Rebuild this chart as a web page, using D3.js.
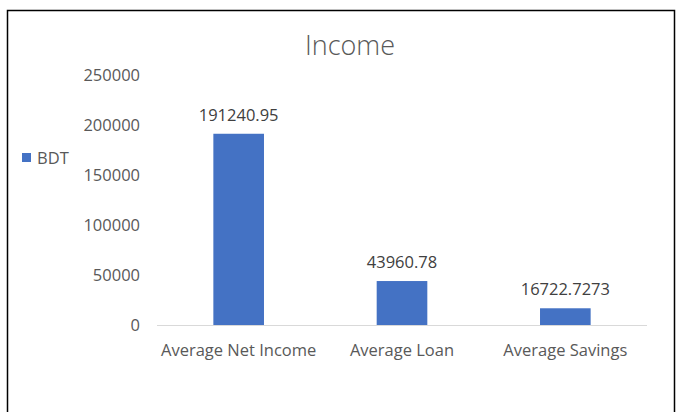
<!DOCTYPE html>
<html>
<head>
<meta charset="utf-8">
<script src="https://cdn.jsdelivr.net/npm/d3@7"></script>
<style>
  body { margin: 0; background: #fff; }
  text { font-family: "Open Sans", "Noto Sans", sans-serif; fill: #595959; }
</style>
</head>
<body>
<div id="chart"></div>
<script>
const categories = ['Average Net Income', 'Average Loan', 'Average Savings'];
const values = [191240.95, 43960.78, 16722.7273];
const valueLabels = ['191240.95', '43960.78', '16722.7273'];
const yTicks = [0, 50000, 100000, 150000, 200000, 250000];
const seriesName = 'BDT';
const title = 'Income';

const width = 684;
const height = 412;
const margin = {top: 75, right: 37, bottom: 87, left: 157};

const svg = d3.select('#chart')
    .append('svg')
    .attr('width', width)
    .attr('height', height);

// outer frame (bottom edge runs off the picture)
svg.append('path')
    .attr('d', 'M7.5,420 V10.5 H674.5 V420')
    .attr('fill', 'none')
    .attr('stroke', '#000')
    .attr('stroke-width', 1.5);

const x = d3.scaleBand()
    .domain(categories)
    .range([margin.left, width - margin.right])
    .paddingInner(0.69)
    .paddingOuter(0.345);

const y = d3.scaleLinear()
    .domain([0, 250000])
    .range([height - margin.bottom, margin.top]);

// title
svg.append('text')
    .attr('x', 350)
    .attr('y', 55)
    .attr('text-anchor', 'middle')
    .style('font-size', '27px')
    .style('font-weight', 300)
    .text(title);

// y axis labels only
svg.selectAll('.ytick')
    .data(yTicks)
    .enter()
    .append('text')
    .attr('class', 'ytick')
    .attr('x', 140)
    .attr('y', (d) => y(d))
    .attr('dy', '0.35em')
    .attr('text-anchor', 'end')
    .style('font-size', '16.5px')
    .text((d) => d);

// bars
svg.selectAll('.bar')
    .data(values)
    .enter()
    .append('rect')
    .attr('class', 'bar')
    .attr('x', (d, i) => x(categories[i]))
    .attr('y', (d) => y(d))
    .attr('width', x.bandwidth())
    .attr('height', (d) => y(0) - y(d))
    .attr('fill', '#4472C4');

// baseline
svg.append('line')
    .attr('x1', margin.left)
    .attr('x2', width - margin.right)
    .attr('y1', y(0) + 0.5)
    .attr('y2', y(0) + 0.5)
    .attr('stroke', '#d9d9d9')
    .attr('stroke-width', 1);

// x labels
svg.selectAll('.xlabel')
    .data(categories)
    .enter()
    .append('text')
    .attr('class', 'xlabel')
    .attr('x', (d) => x(d) + x.bandwidth() / 2)
    .attr('y', y(0) + 31)
    .attr('text-anchor', 'middle')
    .style('font-size', '16.5px')
    .text((d) => d);

// value labels
svg.selectAll('.vlabel')
    .data(values)
    .enter()
    .append('text')
    .attr('class', 'vlabel')
    .attr('x', (d, i) => x(categories[i]) + x.bandwidth() / 2)
    .attr('y', (d) => y(d) - 13)
    .attr('text-anchor', 'middle')
    .style('font-size', '16.5px')
    .style('fill', '#404040')
    .text((d, i) => valueLabels[i]);

// legend
svg.append('rect')
    .attr('x', 22)
    .attr('y', 153)
    .attr('width', 9)
    .attr('height', 9)
    .attr('fill', '#4472C4');
svg.append('text')
    .attr('x', 37)
    .attr('y', 158)
    .attr('dy', '0.35em')
    .style('font-size', '16.5px')
    .text(seriesName);
</script>
</body>
</html>
